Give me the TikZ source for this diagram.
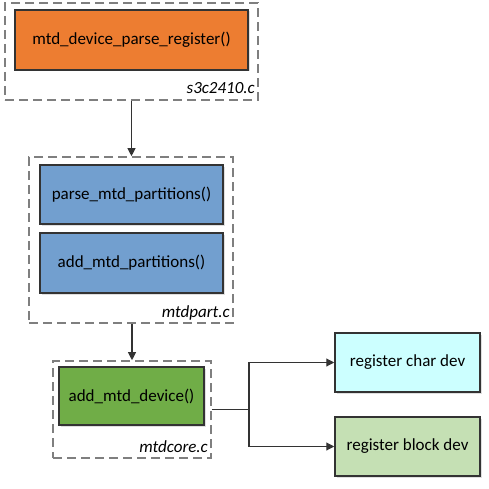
\documentclass[tikz,border=0pt]{standalone}
\usepackage{fontspec}
\setmainfont{Carlito}
\usetikzlibrary{arrows.meta,shadows}
\definecolor{orangefill}{HTML}{ED7D31}
\definecolor{bluefill}{HTML}{729FCF}
\definecolor{greenfill}{HTML}{70AD47}
\definecolor{cyanfill}{HTML}{CCFFFF}
\definecolor{lgreenfill}{HTML}{C5E0B4}
\definecolor{borderc}{HTML}{333333}
\definecolor{dashc}{HTML}{7F7F7F}
\tikzset{
  x=1pt, y=-1pt,
  funcbox/.style={draw=borderc, line width=1.5pt, rectangle, inner sep=0pt,
    font=\fontsize{17}{20}\selectfont,
    drop shadow={shadow xshift=1.5pt, shadow yshift=-1.5pt, opacity=0.25}},
  filebox/.style={draw=dashc, line width=1.6pt, dash pattern=on 9pt off 5pt, rectangle, inner sep=0pt},
  filelabel/.style={anchor=east, inner sep=0pt, font=\fontsize{17}{20}\selectfont\itshape},
  conn/.style={draw=borderc, line width=1.1pt},
  arr/.style={conn, -{Triangle[length=8pt,width=8pt]}}
}
\begin{document}
\begin{tikzpicture}
\useasboundingbox (0,0) rectangle (488,489);
% file containers
\node[filebox, minimum width=253pt, minimum height=97pt] (outer1) at (131.5,51.5) {};
\node[filebox, minimum width=204pt, minimum height=166pt] (outer2) at (131,240) {};
\node[filebox, minimum width=158pt, minimum height=97pt] (outer3) at (132,409.5) {};
% functions
\node[funcbox, fill=orangefill, minimum width=233pt, minimum height=60pt] (parsereg) at (131.5,40) {mtd\_device\_parse\_register()};
\node[funcbox, fill=bluefill, minimum width=183pt, minimum height=59pt] (parsepart) at (131.5,194.5) {parse\_mtd\_partitions()};
\node[funcbox, fill=bluefill, minimum width=183pt, minimum height=60pt] (addpart) at (131.5,263) {add\_mtd\_partitions()};
\node[funcbox, fill=greenfill, minimum width=145pt, minimum height=58pt] (adddev) at (131.5,396) {add\_mtd\_device()};
\node[funcbox, fill=cyanfill, minimum width=145pt, minimum height=59pt] (chardev) at (407.5,362.5) {register char dev};
\node[funcbox, fill=lgreenfill, minimum width=145pt, minimum height=59pt] (blockdev) at (407.5,446.5) {register block dev};
% labels
\node[filelabel] (lab1) at (255,88) {s3c2410.c};
\node[filelabel] (lab2) at (230,313) {mtdpart.c};
\node[filelabel] (lab3) at (208,447) {mtdcore.c};
% connectors
\draw[arr] (outer1.south) -- (outer1.south |- outer2.north);
\draw[arr] (outer3.north |- outer2.south) -- (outer3.north);
\coordinate (branch) at (249,409.5);
\draw[conn] (outer3.east) -- (branch);
\draw[arr] (branch) |- (chardev.west);
\draw[arr] (branch) |- (blockdev.west);
\end{tikzpicture}
\end{document}
